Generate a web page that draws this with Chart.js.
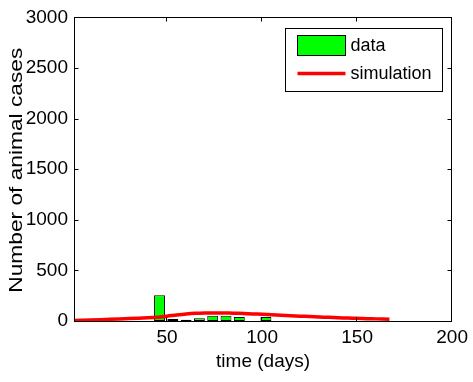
<!DOCTYPE html>
<html>
<head>
<meta charset="utf-8">
<script src="https://cdn.jsdelivr.net/npm/chart.js@4.4.1/dist/chart.umd.min.js"></script>
<style>
    html, body { margin: 0; padding: 0; background: #fff; }
    #wrap { width: 473px; height: 382px; }
</style>
</head>
<body>
<div id="wrap"><canvas id="casesChart" width="473" height="382"></canvas></div>
<script>
/* weekly reported animal cases (bars) */
const weekDays = [46, 53, 60, 67, 74, 81, 88, 95, 102];
const weeklyCases = [254, 20, 13, 26, 52, 52, 39, 0, 39];

/* model output (red curve) */
const simDays = [1, 10, 20, 30, 40, 45, 50, 55, 60, 65, 70, 75, 80, 85, 90, 95, 100, 105, 110, 115, 120, 125, 130, 135, 140, 145, 150, 155, 160, 167];
const simCases = [4, 10, 17, 24, 32, 38, 48, 60, 70, 76, 79, 80, 79, 77, 74, 70, 66, 62, 57, 53, 48, 44, 40, 36, 32, 29, 26, 23, 21, 18];

const xTicks = [50, 100, 150, 200];
const yTicks = [0, 500, 1000, 1500, 2000, 2500, 3000];

const FONT = '"Liberation Sans", Arial, Helvetica, sans-serif';

// matlab style box, inward ticks, legend and axis titles
const matlabFrame = {
    id: 'matlabFrame',
    afterDraw(chart) {
        const { ctx, chartArea: a, scales: { x, y } } = chart;
        const L = Math.round(a.left) + 0.5, R = Math.round(a.right) - 0.5;
        const T = Math.round(a.top) + 0.5, B = Math.round(a.bottom) + 0.5;
        ctx.save();
        ctx.strokeStyle = '#000';
        ctx.lineWidth = 1;
        ctx.strokeRect(L, T, R - L, B - T);

        ctx.beginPath();
        xTicks.forEach(v => {
            const px = Math.round(x.getPixelForValue(v)) - 0.5;
            ctx.moveTo(px, B); ctx.lineTo(px, B - 4);
            ctx.moveTo(px, T); ctx.lineTo(px, T + 4);
        });
        yTicks.forEach(v => {
            const py = Math.round(y.getPixelForValue(v)) + 0.5;
            ctx.moveTo(L, py); ctx.lineTo(L + 4, py);
            ctx.moveTo(R, py); ctx.lineTo(R - 4, py);
        });
        ctx.stroke();

        // legend
        const lx = Math.round(a.right) - 166.5, ly = Math.round(a.top) + 11.5;
        ctx.fillStyle = '#fff';
        ctx.fillRect(lx, ly, 157, 63);
        ctx.strokeRect(lx, ly, 157, 63);
        ctx.fillStyle = '#00ff00';
        ctx.fillRect(lx + 12, ly + 7, 48, 20);
        ctx.strokeRect(lx + 12, ly + 7, 48, 20);
        ctx.strokeStyle = '#ff0000';
        ctx.lineWidth = 3.5;
        ctx.beginPath();
        ctx.moveTo(lx + 12, ly + 45);
        ctx.lineTo(lx + 60, ly + 45);
        ctx.stroke();
        ctx.fillStyle = '#000';
        ctx.font = '18px ' + FONT;
        ctx.textAlign = 'left';
        ctx.textBaseline = 'middle';
        ctx.fillText('data', lx + 65, ly + 18);
        ctx.fillText('simulation', lx + 65, ly + 46);

        // x title
        ctx.font = '19px ' + FONT;
        ctx.textAlign = 'center';
        ctx.fillText('time (days)', (a.left + a.right) / 2, 362);

        // y title
        ctx.font = '18px ' + FONT;
        ctx.translate(17, (a.top + a.bottom) / 2 + 1);
        ctx.rotate(-Math.PI / 2);
        const yt = 'Number of animal cases';
        const w = ctx.measureText(yt).width;
        ctx.scale(245 / w, 1);
        ctx.fillText(yt, 0, 0);
        ctx.restore();
    }
};

new Chart(document.getElementById('casesChart'), {
    type: 'bar',
    data: {
        datasets: [{
            type: 'line',
            label: 'simulation',
            data: simDays.map((d, i) => ({ x: d, y: simCases[i] })),
            borderColor: '#ff0000',
            borderWidth: 3.5,
            pointRadius: 0,
            tension: 0.3,
            fill: false
        }, {
            type: 'bar',
            label: 'data',
            data: weekDays.map((d, i) => ({ x: d, y: weeklyCases[i] })),
            backgroundColor: '#00ff00',
            borderColor: '#000',
            borderWidth: 1,
            borderSkipped: false,
            barPercentage: 1,
            categoryPercentage: 0.82
        }]
    },
    options: {
        responsive: false,
        devicePixelRatio: 1,
        animation: false,
        layout: { padding: { top: 14, right: 17, left: 0, bottom: 0 } },
        plugins: {
            legend: { display: false },
            tooltip: { enabled: false }
        },
        scales: {
            x: {
                type: 'linear',
                min: 1,
                max: 200,
                offset: false,
                afterBuildTicks: s => { s.ticks = xTicks.map(v => ({ value: v })); },
                afterFit: s => { s.height = 61; },
                grid: { display: false, drawTicks: false },
                border: { display: false },
                ticks: {
                    color: '#000',
                    padding: 5,
                    maxRotation: 0,
                    callback: v => String(v),
                    font: { family: FONT, size: 19 }
                }
            },
            y: {
                min: 0,
                max: 3000,
                afterBuildTicks: s => { s.ticks = yTicks.map(v => ({ value: v })); },
                afterFit: s => { s.width = 74; },
                grid: { display: false, drawTicks: false },
                border: { display: false },
                ticks: {
                    color: '#000',
                    padding: 6,
                    callback: v => String(v),
                    font: { family: FONT, size: 19 }
                }
            }
        }
    },
    plugins: [matlabFrame]
});
</script>
</body>
</html>
